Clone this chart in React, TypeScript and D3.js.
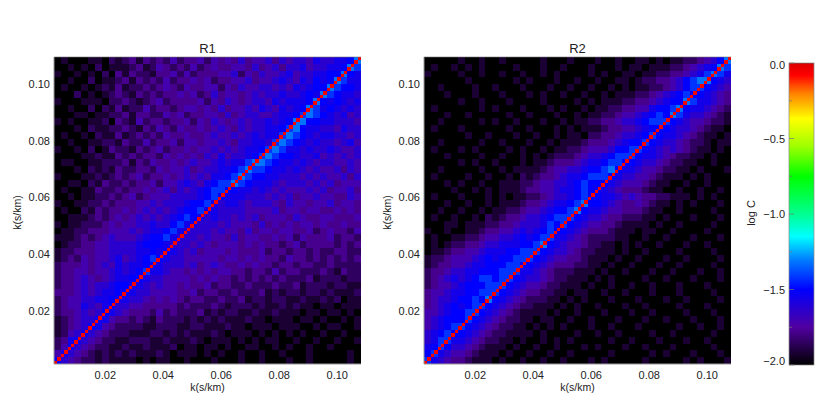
import { useEffect, useRef } from 'react'
import * as d3 from 'd3'

// hand: mean level of 45x45 blocks, top row first, digit = index into LEVELS
const R1_ROWS = [
  '01000 11021 23132 32423 34243 43534 45354 55465 56679',
  '00101 02011 12312 43232 42343 34435 34535 56455 66798',
  '10010 10203 13221 33424 23334 45243 54456 45566 77976',
  '00100 20112 31323 24233 43423 34453 44565 46576 79866',
  '01001 01213 12232 34324 33442 43544 55454 65677 98776',
  '00020 10123 21323 23343 42353 44345 45565 56769 87665',
  '10001 11022 32123 42333 34243 54345 54656 66797 67656',
  '00100 20213 12242 33234 43435 34454 65465 67986 76565',
  '00011 01122 31332 24342 33443 53455 44566 78987 65645',
  '10100 11203 21423 32334 24354 34545 56567 99776 65554',
  '00010 21122 32132 43243 34345 43545 56678 97665 54655',
  '01001 02113 12323 24334 33454 45456 56689 87656 65545',
  '00100 11221 32242 33424 43445 43556 65898 76565 54564',
  '10010 20132 21323 42334 34454 54566 78986 65655 65445',
  '00001 12113 23233 24343 43546 45567 89877 65564 54545',
  '01100 11222 31324 33434 54456 56689 98766 56545 54454',
  '00010 21213 22332 43445 34556 67898 87665 65454 45354',
  '10001 12123 23423 34345 45466 78987 76655 54545 44535',
  '00110 21322 32334 24456 54678 89876 66545 55454 53444',
  '01001 13223 23343 45354 56788 77665 65454 44545 34453',
  '00101 12232 34234 44555 56787 66655 54545 34454 43354',
  '10011 22323 33445 45556 77865 66545 55435 44344 53443',
  '01002 13233 43454 54567 78665 55544 44534 43443 34343',
  '00111 23234 34545 45678 76565 54545 34443 54334 43334',
  '10112 22343 44556 55786 65554 54443 53434 34434 33433',
  '01122 33344 45456 67865 55545 44353 44344 33423 43324',
  '11123 23454 44567 78655 54544 35344 33434 24333 42332',
  '01223 34455 55677 76555 45434 44343 43323 42333 32323',
  '12233 34455 55667 67654 53444 34333 42332 33232 23322',
  '12324 34456 45678 76554 44443 44343 43324 33232 32323',
  '23334 34546 56677 65554 53454 33434 33233 23322 32222',
  '23344 34456 56786 65443 43434 43323 32423 32223 21322',
  '23345 43456 67765 54444 34343 32323 23232 22312 22122',
  '23345 45567 76654 54434 33423 32232 22322 31222 12211',
  '33345 45667 76554 44433 42332 23222 31212 21221 21112',
  '23445 56676 65543 43432 33223 22312 21221 12112 12011',
  '23446 54675 54433 33323 22232 12221 21121 21101 10111',
  '23345 45765 43332 42322 23121 22112 11211 10110 11010',
  '12345 56643 32321 32221 21212 11121 10111 01101 00101',
  '12345 76432 22211 22211 22111 21101 11011 10010 11001',
  '12456 54322 21112 21212 11121 01110 10101 01001 00100',
  '23665 43221 12221 12111 21011 10101 01100 10010 01001',
  '24754 32211 21121 11201 10110 10011 00101 00100 10000',
  '46543 21212 12111 21011 10101 00100 10010 00100 00010',
  '75432 21211 11010 11001 00010 00100 10001 00100 00010',
]

const R2_ROWS = [
  '00000 10010 01000 00100 01000 10010 01101 01122 34579',
  '01001 01010 00010 00100 10001 00010 11011 12234 56798',
  '10000 10010 01001 00101 00001 01001 10112 23345 68986',
  '00000 01000 00010 10001 00100 10011 01223 34578 99765',
  '00100 00100 10001 00010 01001 00101 01122 34578 87654',
  '00010 00100 01000 10100 10010 01011 12234 56787 76543',
  '00000 10010 00100 00100 00101 01112 23345 67798 66543',
  '01000 00010 10001 00010 10010 11223 34467 78976 65432',
  '00010 01000 00100 10001 00101 12234 45678 79865 54321',
  '00100 00010 10010 00100 10112 23345 56788 87654 43221',
  '01000 10000 00100 10001 01011 12334 45677 76554 32110',
  '00000 01001 00010 01001 01102 23345 56787 66543 21101',
  '00100 00010 01000 10010 11123 33456 77876 55432 21011',
  '01000 10100 00101 00101 12234 44577 88765 45432 11010',
  '00010 00010 01001 01012 22345 56788 87665 43221 10100',
  '00000 10100 10001 01123 33456 67887 76554 32211 00100',
  '00100 00010 01011 11234 45567 78976 65443 22110 10001',
  '01000 01001 00102 12334 56678 88765 54432 11101 01000',
  '00010 10010 01112 23445 56787 77654 44321 10010 01000',
  '00001 00101 01112 33445 66787 66543 33211 00100 10010',
  '01000 10001 01011 22345 56787 76654 54332 21110 10100',
  '00010 01001 01112 33456 67897 76543 34321 10101 00010',
  '00100 10010 11223 44567 78976 65443 33211 00100 00100',
  '01001 00102 12334 55678 88765 54332 22110 10001 00010',
  '00011 01112 23345 55687 87654 43321 11101 00100 00100',
  '10010 01123 34456 56787 76543 33211 10110 01000 01000',
  '01001 12234 45567 67886 65432 22211 00100 10001 00010',
  '01012 23345 56667 78976 54432 21101 01001 00010 01000',
  '01123 34456 66778 88765 54322 11101 00100 00100 00100',
  '12234 44567 67788 87654 43321 11010 01000 10010 00010',
  '12334 45667 77887 76543 33221 10100 10001 00100 00100',
  '23345 56677 78886 65432 22111 01001 00010 01000 10010',
  '23456 56788 78876 55432 21110 10100 00100 10001 00010',
  '23445 67778 88765 44322 11101 00100 10010 00100 01000',
  '34456 67788 87654 33221 10110 01001 00010 00100 00100',
  '34556 77879 76543 22211 01010 00100 01000 10010 00010',
  '34567 67887 65432 21110 10100 10001 00100 00100 01000',
  '44567 78876 54321 11101 00100 01000 10010 00010 00100',
  '45677 78765 43221 10110 01001 00010 00100 10001 00010',
  '45678 87654 32211 01010 10001 00100 01000 00100 10010',
  '56787 76543 22111 10100 00100 10010 00010 01000 00100',
  '56886 65432 21101 00101 01000 00100 10001 00010 01000',
  '67875 54321 11010 01001 00010 10001 00100 01000 00100',
  '78654 43211 10100 10010 01000 00100 00010 10001 00010',
  '86543 32111 01001 00100 10001 01000 00100 00010 10001',
]

const LEVELS = [-2.0, -1.92, -1.85, -1.78, -1.71, -1.63, -1.56, -1.5, -1.42, -1.32]
const DIAG_LOG_C = -0.06
const FINE_BINS = 90
const K_TICKS = [0.02, 0.04, 0.06, 0.08, 0.1]
const CBAR_MAJOR = [0, -0.5, -1, -1.5, -2]
const CBAR_MINOR = [-0.25, -0.75, -1.25, -1.75]

const STOP_V = [-2, -1.75, -1.5, -1.3, -1.15, -1, -0.75, -0.55, -0.37, -0.2, -0.08, -0.01, 0]
const STOP_C = ['#000000', '#5000a0', '#0000ff', '#0080ff', '#00ffff', '#00ff90', '#00ff00', '#a0ff00', '#ffff00', '#ff8000', '#ff0000', '#e00000', '#b00000']

export default function App() {
  const svgRef = useRef<SVGSVGElement>(null)

  useEffect(() => {
    const svg = d3.select(svgRef.current)
    svg.selectAll('*').remove()
    const font = '"Liberation Sans", Arial, sans-serif'
    const ink = '#222'
    const color = d3.scaleLinear<string>().domain(STOP_V).range(STOP_C).interpolate(d3.interpolateRgb)

    const panel = (rows: string[], title: string, left: number) => {
      const top = 57, size = 307
      const g = svg.append('g')
      const idx = d3.range(rows.length)
      const bx = d3.scaleBand<number>().domain(idx).range([left, left + size])
      const by = d3.scaleBand<number>().domain(idx).range([top, top + size])
      g.append('rect').attr('x', left).attr('y', top).attr('width', size).attr('height', size).attr('fill', '#000')
      rows.forEach((row, r) => {
        const cells = row.replace(/ /g, '')
        for (let c = 0; c < cells.length; c++) {
          const lv = +cells[c]
          if (!lv) continue
          g.append('rect').attr('x', bx(c)!).attr('y', by(r)!).attr('width', bx.bandwidth()).attr('height', by.bandwidth())
            .attr('fill', color(LEVELS[lv])).attr('shape-rendering', 'crispEdges')
        }
      })
      // diagonal k = k' at the full bin size
      const fine = d3.range(FINE_BINS)
      const fx = d3.scaleBand<number>().domain(fine).range([left, left + size])
      const fy = d3.scaleBand<number>().domain(fine).range([top + size, top])
      fine.forEach(i => {
        g.append('rect').attr('x', fx(i)!).attr('y', fy(i)!).attr('width', fx.bandwidth()).attr('height', fy.bandwidth())
          .attr('fill', color(DIAG_LOG_C)).attr('shape-rendering', 'crispEdges')
      })
      // frame
      g.append('path').attr('d', `M${left},${top}V${top + size}H${left + size}`).attr('fill', 'none').attr('stroke', '#999').attr('stroke-width', 1)
      g.append('path').attr('d', `M${left},${top}H${left + size}`).attr('fill', 'none').attr('stroke', '#777').attr('stroke-width', 0.6)

      const xS = d3.scaleLinear().domain([0.0023, 0.1082]).range([left, left + size])
      const yS = d3.scaleLinear().domain([0.0013, 0.1095]).range([top + size, top])
      const txt = (x: number, y: number, s: string, anchor = 'middle', fs = 11) =>
        g.append('text').attr('x', x).attr('y', y).attr('text-anchor', anchor).attr('font-family', font).attr('font-size', fs).attr('fill', ink).text(s)
      K_TICKS.forEach(k => {
        txt(xS(k), 379, k.toFixed(2))
        txt(left - 4, yS(k) + 4, k.toFixed(2), 'end')
      })
      txt(left + size / 2, 391, 'k(s/km)', 'middle', 10.5)
      txt(left + size / 2, 53, title, 'middle', 13)
      g.append('text').attr('transform', `translate(${left - 33},${top + size / 2 + 2}) rotate(-90)`).attr('text-anchor', 'middle')
        .attr('font-family', font).attr('font-size', 10.5).attr('fill', ink).text('k(s/km)')
    }

    panel(R1_ROWS, 'R1', 54)
    panel(R2_ROWS, 'R2', 424)

    // colour bar
    const barL = 789, barR = 814, barT = 63, barB = 365
    const cy = d3.scaleLinear().domain([0, -2]).range([barT, barB])
    const g = svg.append('g')
    d3.range(barT, barB).forEach(py => {
      g.append('rect').attr('x', barL).attr('y', py).attr('width', barR - barL).attr('height', 1.2)
        .attr('fill', color(cy.invert(py + 0.5))).attr('shape-rendering', 'crispEdges')
    })
    g.append('rect').attr('x', barL).attr('y', barT).attr('width', barR - barL).attr('height', barB - barT)
      .attr('fill', 'none').attr('stroke', '#888').attr('stroke-width', 0.7)
    CBAR_MAJOR.forEach(v => {
      g.append('line').attr('x1', barL).attr('x2', barL + 5).attr('y1', cy(v)).attr('y2', cy(v)).attr('stroke', '#777').attr('stroke-width', 0.7)
      const ly = Math.max(69, Math.min(365, cy(v) + 4))
      g.append('text').attr('x', 785).attr('y', ly).attr('text-anchor', 'end').attr('font-family', font).attr('font-size', 11).attr('fill', ink)
        .text(v === 0 ? '0.0' : `−${Math.abs(v).toFixed(1)}`)
    })
    CBAR_MINOR.forEach(v => {
      g.append('line').attr('x1', barL).attr('x2', barL + 3).attr('y1', cy(v)).attr('y2', cy(v)).attr('stroke', '#777').attr('stroke-width', 0.7)
    })
    g.append('text').attr('transform', 'translate(755,213) rotate(-90)').attr('text-anchor', 'middle')
      .attr('font-family', font).attr('font-size', 11).attr('fill', ink).text('log C')
  }, [])

  return <svg ref={svgRef} width={830} height={415} style={{ position: 'absolute', left: 0, top: 0, background: '#fff' }} />
}
